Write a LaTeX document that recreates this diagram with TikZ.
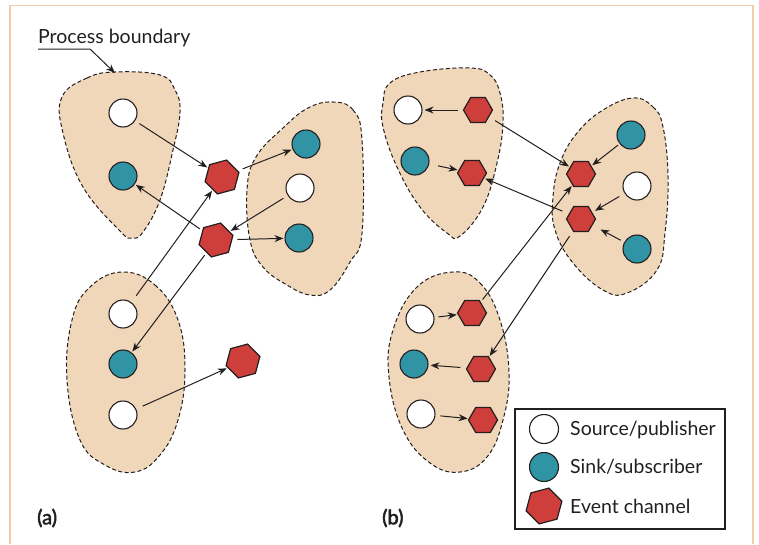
\documentclass[tikz,border=0pt]{standalone}
\usepackage{fontspec}
\setmainfont{Lato}[BoldFont={Lato Bold}]
\newfontfamily\labfont{Lato}[FakeBold=2.5]
\usetikzlibrary{arrows.meta,shapes.geometric}
\definecolor{teal2}{HTML}{3194A4}
\definecolor{red2}{HTML}{CE3F3B}
\definecolor{blobfill}{HTML}{F1D7BA}
\definecolor{framecol}{HTML}{F3CDA8}
\definecolor{ink}{HTML}{231F20}
\begin{document}
\begin{tikzpicture}[x=1pt,y=-1pt,
 blob/.style={fill=blobfill, draw=ink, dash pattern=on 4pt off 2.5pt, line width=1pt},
 src/.style={circle, draw=ink, fill=white, line width=1.1pt, minimum size=28pt, inner sep=0pt},
 snk/.style={src, fill=teal2},
 chA/.style={regular polygon, regular polygon sides=6, shape border rotate=15, draw=ink, fill=red2, line width=1.2pt, minimum size=35pt, inner sep=0pt},
 chB/.style={chA, shape border rotate=0, minimum size=29pt},
 conn/.style={-{Stealth[length=9pt,width=7pt]}, draw=ink, line width=1pt, shorten <=5pt, shorten >=1pt},
 lbl/.style={font=\fontsize{19.5}{23}\selectfont, text=ink, inner sep=0pt},
 panel/.style={font=\labfont\fontsize{20}{23}\selectfont, text=ink, inner sep=0pt}
]
\useasboundingbox (0,0) rectangle (759,544);
% frame
\draw[framecol, line width=1.5pt] (10,544) -- (10,5.5) -- (753,5.5) -- (753,544);

% blobs (a)
\draw[blob] plot[smooth cycle, tension=0.7] coordinates {(62,97) (87,78) (115,72) (160,75) (175,90) (180,112) (173,150) (160,200) (143,232) (132,238) (120,231) (83,187) (63,133)};
\draw[blob] plot[smooth cycle, tension=0.7] coordinates {(333,102) (353,110) (362,140) (362,233) (350,262) (330,290) (310,295) (287,285) (263,267) (250,240) (247,190) (256,157) (283,128) (308,108)};
\draw[blob] plot[smooth cycle, tension=0.7] coordinates {(122,272) (155,285) (178,320) (185,370) (178,420) (160,455) (135,472) (105,465) (80,440) (67,380) (72,320) (90,287)};
% blobs (b)
\draw[blob] plot[smooth cycle, tension=0.7] coordinates {(390,83) (420,72) (470,68) (490,75) (500,93) (503,123) (497,163) (483,207) (460,236) (447,233) (420,207) (397,167) (383,127) (383,103)};
\draw[blob] plot[smooth cycle, tension=0.7] coordinates {(633,98) (653,107) (663,127) (668,177) (665,233) (657,270) (627,293) (603,290) (573,263) (555,230) (553,197) (560,163) (577,133) (603,110)};
\draw[blob] plot[smooth cycle, tension=0.7] coordinates {(453,272) (480,283) (500,320) (509,373) (503,420) (487,457) (460,472) (430,463) (403,430) (389,377) (393,330) (417,287)};

% process boundary label
\node[lbl, anchor=base west] (pb) at (38,43) {Process boundary};
\coordinate (pbstart) at (38,49);
\coordinate (pbtip) at (115,73);
\draw[-{Stealth[length=9pt,width=7pt]}, draw=ink, line width=1pt] (pbstart) -- (90,49) -- (pbtip);

% nodes (a)
\node[src] (A1a) at (123,113) {};
\node[snk] (A1b) at (123,176) {};
\node[chA] (H1) at (222,177) {};
\node[chA] (H2) at (216,240) {};
\node[snk] (A2a) at (306,144) {};
\node[src] (A2b) at (300,188) {};
\node[snk] (A2c) at (299,238) {};
\node[src] (A3a) at (123,314) {};
\node[snk] (A3b) at (123,364) {};
\node[src] (A3c) at (123,415) {};
\node[chA] (H3) at (243,361) {};

% connectors (a)
\draw[conn] (A1a) -- (H1);
\draw[conn] (H1) -- (A2a);
\draw[conn] (A2b) -- (H2);
\draw[conn, shorten <=3pt] (H2) -- (A1b);
\draw[conn] (H2) -- (A2c);
\draw[conn, shorten <=8pt] (A3a) -- (H1);
\draw[conn, shorten <=3pt] (H2) -- (A3b);
\draw[conn, shorten <=7pt] (A3c) -- (H3);

% nodes (b)
\node[src] (B1a) at (408,110) {};
\node[chB] (B1h1) at (478,110) {};
\node[snk] (B1b) at (415,161) {};
\node[chB] (B1h2) at (472,173) {};
\node[chB] (B2h1) at (581,174) {};
\node[chB] (B2h2) at (581,219) {};
\node[snk] (B2a) at (631,135) {};
\node[src] (B2b) at (637,186) {};
\node[snk] (B2c) at (637,249) {};
\node[src] (B3a) at (420,319) {};
\node[chB] (B3h1) at (472,313) {};
\node[snk] (B3b) at (414,364) {};
\node[chB] (B3h2) at (481,369) {};
\node[src] (B3c) at (421,414) {};
\node[chB] (B3h3) at (483,420) {};

% connectors (b)
\draw[conn, shorten >=2pt] (B1h1) -- (B1a);
\draw[conn, shorten <=9pt] (B1b) -- (B1h2);
\draw[conn, shorten <=7pt] (B1h1) -- (B2h1);
\draw[conn, shorten <=2pt] (B2a) -- (B2h1);
\draw[conn, shorten <=7pt] (B2h2) -- (B1h2);
\draw[conn, shorten <=6pt, shorten >=3pt] (B2b) -- (B2h2);
\draw[conn, shorten <=4pt, shorten >=9pt] (B2c) -- (B2h2);
\draw[conn, shorten <=3pt] (B3h1) -- (B2h1);
\draw[conn, shorten <=6pt] (B2h2) -- (B3h2);
\draw[conn, shorten <=4pt] (B3a) -- (B3h1);
\draw[conn, shorten <=6pt, shorten >=2pt] (B3h2) -- (B3b);
\draw[conn, shorten <=5pt] (B3c) -- (B3h3);

% panel labels
\node[panel, anchor=west] (la) at (37,518) {(a)};
\node[panel, anchor=west] (lb) at (382,518) {(b)};

% legend
\node[draw=ink, line width=1.2pt, minimum width=210pt, minimum height=120pt, inner sep=0pt] (legend) at (620,469) {};
\node[src, minimum size=29pt] (L1) at (544,429) {};
\node[snk, minimum size=29pt] (L2) at (544,467) {};
\node[chA, minimum size=37pt] (L3) at (544,506) {};
\node[lbl, anchor=west] (T1) at (570,430) {Source/publisher};
\node[lbl, anchor=west] (T2) at (570,467) {Sink/subscriber};
\node[lbl, anchor=west] (T3) at (570,506) {Event channel};
\end{tikzpicture}
\end{document}
